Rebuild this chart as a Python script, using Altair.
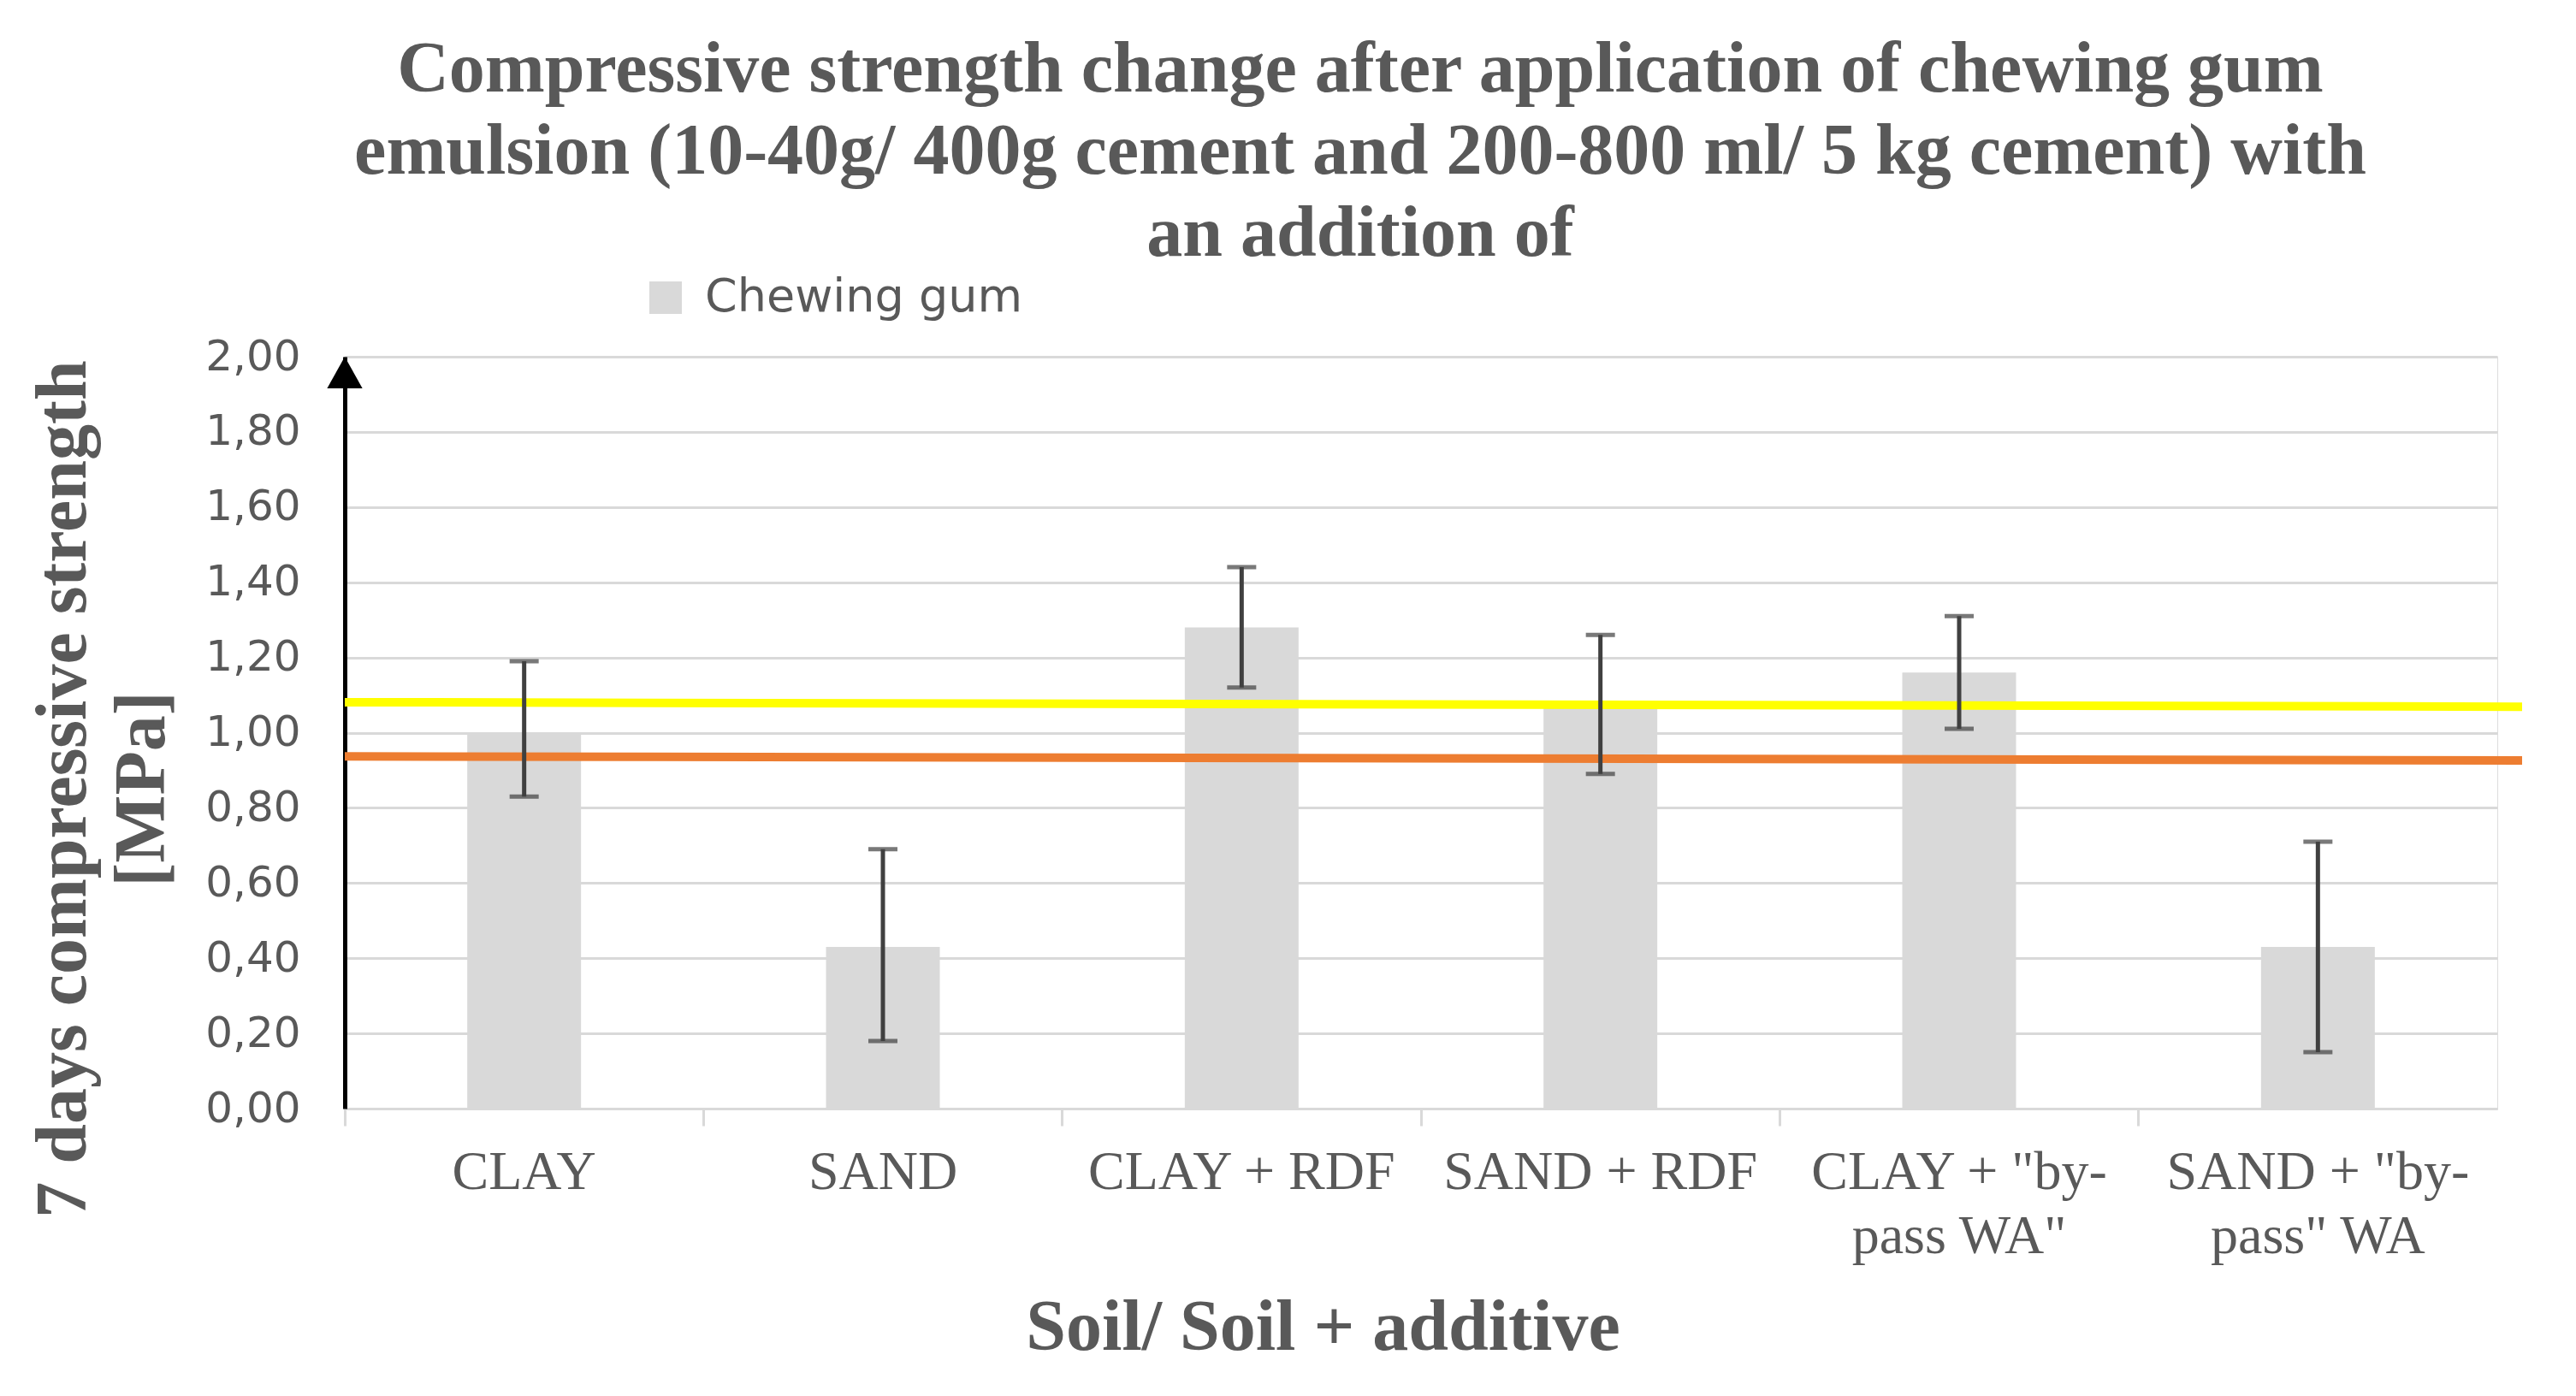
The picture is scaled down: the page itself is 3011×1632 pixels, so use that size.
import altair as alt
import pandas as pd

categories = ["CLAY", "SAND", "CLAY + RDF", "SAND + RDF",
              'CLAY + "by-\npass WA"', 'SAND + "by-\npass" WA']
values = [1.00, 0.43, 1.28, 1.065, 1.16, 0.43]
err_low = [0.83, 0.18, 1.12, 0.89, 1.01, 0.15]
err_high = [1.19, 0.69, 1.44, 1.26, 1.31, 0.71]
series_name = "Chewing gum"

ref_names = ["yellow", "orange"]
ref_start = [1.081, 0.937]
ref_end = [1.069, 0.926]
ref_colors = ["#ffff00", "#ed7d31"]

y_max = 2.0

W, H = 2516, 879
GREY_TXT = "#595959"
SERIF = "Liberation Serif"

df = pd.DataFrame({"cat": categories, "val": values, "lo": err_low, "hi": err_high,
                   "series": [series_name] * len(categories)})
ref_df = pd.DataFrame({"name": ref_names, "y1": ref_start, "y2": ref_end, "col": ref_colors})
arrow_df = pd.DataFrame({"top": [y_max]})

x_enc = alt.X("cat:N", sort=categories,
              scale=alt.Scale(paddingInner=0, paddingOuter=0),
              axis=alt.Axis(title="Soil/ Soil + additive", labelAngle=0,
                            labelExpr="split(datum.label, '\\n')", labelLimit=0,
                            labelFont=SERIF, labelFontSize=64, labelColor=GREY_TXT,
                            labelLineHeight=75, labelPadding=22,
                            bandPosition=0, tickSize=20, tickColor="#d9d9d9", tickWidth=3,
                            domainColor="#d9d9d9", domainWidth=3, grid=False,
                            titleFont=SERIF, titleFontSize=84, titleFontWeight="bold",
                            titleColor=GREY_TXT, titleX=1143, titlePadding=34))

y_scale = alt.Scale(domain=[0, y_max], nice=False)
y_axis = alt.Axis(title=["7 days compressive strength", "[MPa]"],
                  values=[0, 0.2, 0.4, 0.6, 0.8, 1.0, 1.2, 1.4, 1.6, 1.8, 2.0],
                  labelExpr="replace(format(datum.value, '.2f'), '.', ',')",
                  labelFont="DejaVu Sans", labelFontSize=50, labelColor=GREY_TXT,
                  labelPadding=52, ticks=False,
                  domainColor="black", domainWidth=5,
                  gridColor="#d9d9d9", gridWidth=3,
                  titleFont=SERIF, titleFontSize=84, titleFontWeight="bold",
                  titleColor=GREY_TXT, titleLineHeight=92,
                  titleX=-370, titleY=505, titleBaseline="top")

bars = alt.Chart(df).mark_bar(size=133).encode(
    x=x_enc,
    y=alt.Y("val:Q", scale=y_scale, axis=y_axis),
    color=alt.Color("series:N", scale=alt.Scale(range=["#d9d9d9"]),
                    legend=alt.Legend(orient="none", legendX=348, legendY=-96, title=None,
                                      symbolType="square", symbolSize=1444,
                                      symbolStrokeWidth=0, labelOffset=19, labelLimit=0,
                                      labelFont="DejaVu Sans", labelFontSize=54,
                                      labelColor=GREY_TXT)),
)

refs = alt.Chart(ref_df).mark_rule(strokeWidth=10).encode(
    x=alt.value(0), x2=alt.value(W + 29),
    y=alt.Y("y1:Q", scale=y_scale), y2="y2:Q",
    color=alt.Color("col:N", scale=None, legend=None),
)

err_rule = alt.Chart(df).mark_rule(color="#404040", strokeWidth=5).encode(
    x=alt.X("cat:N", sort=categories), y=alt.Y("lo:Q", scale=y_scale), y2="hi:Q")
cap_lo = alt.Chart(df).mark_tick(color="#404040", size=34, thickness=5).encode(
    x=alt.X("cat:N", sort=categories), y=alt.Y("lo:Q", scale=y_scale))
cap_hi = alt.Chart(df).mark_tick(color="#404040", size=34, thickness=5).encode(
    x=alt.X("cat:N", sort=categories), y=alt.Y("hi:Q", scale=y_scale))

arrow = alt.Chart(arrow_df).mark_point(
    shape="M0,0L-1,1.8L1,1.8Z", filled=True, color="black", size=1700, opacity=1
).encode(x=alt.value(0), y=alt.Y("top:Q", scale=y_scale))

chart = alt.layer(bars, refs, err_rule, cap_lo, cap_hi, arrow).properties(
    width=W, height=H,
    autosize=alt.AutoSizeParams(type="none"),
    padding={"left": 395, "top": 409, "right": 84, "bottom": 328},
    title=alt.TitleParams(
        text=["Compressive strength change after application of chewing gum",
              "emulsion (10-40g/ 400g cement and 200-800 ml/ 5 kg cement) with",
              "an addition of"],
        font=SERIF, fontSize=84, fontWeight="bold", color=GREY_TXT,
        lineHeight=96, anchor="middle", dx=-71, offset=4),
).configure_view(stroke=None).configure(background="white")

chart.save("out.html", embed_options={"renderer": "svg", "actions": False})
